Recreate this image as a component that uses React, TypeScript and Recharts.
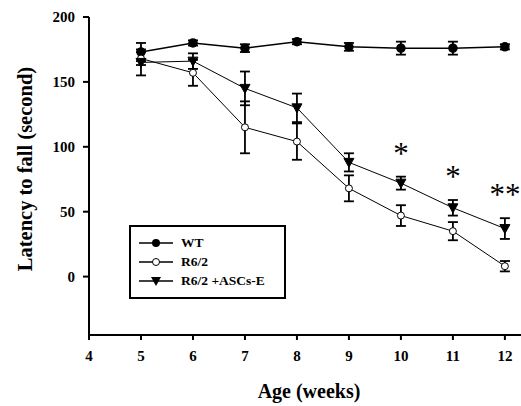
import { LineChart, Line, XAxis, YAxis, ErrorBar, LabelList } from "recharts";

const weeks = [5, 6, 7, 8, 9, 10, 11, 12];
const wtMean = [173, 180, 176, 181, 177, 176, 176, 177];
const wtErr = [7, 2, 3, 2, 3, 5, 5, 2];
const r62Mean = [168, 157, 115, 104, 68, 47, 35, 8];
const r62Err = [5, 10, 20, 14, 10, 8, 7, 4];
const ascMean = [165, 166, 145, 130, 88, 72, 53, 37];
const ascErr = [10, 6, 13, 11, 7, 5, 6, 8];
const stars = ["", "", "", "", "", "*", "*", "**"];
const xTicks = [4, 5, 6, 7, 8, 9, 10, 11, 12];
const yTicks = [0, 50, 100, 150, 200];

const data = weeks.map((week, i) => ({
  week,
  wt: wtMean[i],
  wtErr: wtErr[i],
  r62: r62Mean[i],
  r62Err: r62Err[i],
  asc: ascMean[i],
  ascErr: ascErr[i],
  star: stars[i],
}));

const serif = "'Liberation Serif', 'Times New Roman', serif";

function Triangle(props: any) {
  const { cx, cy, index } = props;
  if (cx == null || cy == null) return null;
  return (
    <path
      key={`tri-${index}`}
      d={`M${cx - 5},${cy - 4} L${cx + 5},${cy - 4} L${cx},${cy + 5} Z`}
      fill="#000"
      stroke="#000"
    />
  );
}

function StarLabel(props: any) {
  const { x, y, value, index } = props;
  if (!value) return null;
  const off = ascErr[index] * 1.3 + 13;
  return (
    <text
      x={x}
      y={y - off}
      textAnchor="middle"
      fontFamily={serif}
      fontSize={31}
      fill="#000"
    >
      {value}
    </text>
  );
}

function YTitle() {
  return (
    <text
      x={32}
      y={169}
      transform="rotate(-90 32 169)"
      textAnchor="middle"
      fontFamily={serif}
      fontSize={20.5}
      fontWeight="bold"
      fill="#000"
    >
      Latency to fall (second)
    </text>
  );
}

function XTitle() {
  return (
    <text
      x={309}
      y={398}
      textAnchor="middle"
      fontFamily={serif}
      fontSize={20}
      fontWeight="bold"
      fill="#000"
    >
      Age (weeks)
    </text>
  );
}

function LegendRow({ label, kind }: { label: string; kind: string }) {
  return (
    <div style={{ display: "flex", alignItems: "center", height: 19 }}>
      <svg width={42} height={12} style={{ marginLeft: 8 }}>
        <line x1={0} y1={6} x2={34} y2={6} stroke="#000" strokeWidth={1.5} />
        {kind === "wt" && <circle cx={17} cy={6} r={4} fill="#000" />}
        {kind === "r62" && (
          <circle cx={17} cy={6} r={3.5} fill="#fff" stroke="#000" />
        )}
        {kind === "asc" && (
          <path d="M12,2 L22,2 L17,11 Z" fill="#000" />
        )}
      </svg>
      <span style={{ fontWeight: "bold", fontSize: 13.5, fontFamily: serif }}>
        {label}
      </span>
    </div>
  );
}

export default function App() {
  return (
    <div
      style={{
        position: "absolute",
        left: 0,
        top: 0,
        width: 521,
        height: 406,
        background: "#fff",
      }}
    >
      <LineChart
        width={521}
        height={406}
        data={data}
        margin={{ top: 17, right: 0, bottom: 0, left: 0 }}
      >
        <XAxis
          dataKey="week"
          type="number"
          domain={[4, 12.31]}
          ticks={xTicks}
          allowDataOverflow
          stroke="#000"
          strokeWidth={2}
          tickSize={5}
          tickMargin={10}
          tick={{ fill: "#000", fontSize: 15, fontWeight: "bold", fontFamily: serif }}
          height={71}
          label={{ content: XTitle }}
        />
        <YAxis
          type="number"
          domain={[-45, 200]}
          ticks={yTicks}
          allowDataOverflow
          width={89}
          stroke="#000"
          strokeWidth={2}
          tickSize={6}
          tickMargin={8}
          tick={{ fill: "#000", fontSize: 15, fontWeight: "bold", fontFamily: serif }}
          label={{ content: YTitle }}
        />
        <Line
          dataKey="wt"
          stroke="#000"
          strokeWidth={1.5}
          dot={{ r: 4, fill: "#000", stroke: "#000" }}
          isAnimationActive={false}
        >
          <ErrorBar dataKey="wtErr" width={5} stroke="#000" strokeWidth={1.8} />
        </Line>
        <Line
          dataKey="r62"
          stroke="#000"
          strokeWidth={1}
          dot={{ r: 3.5, fill: "#fff", stroke: "#000", strokeWidth: 1 }}
          isAnimationActive={false}
        >
          <ErrorBar dataKey="r62Err" width={5} stroke="#000" strokeWidth={1.8} />
        </Line>
        <Line
          dataKey="asc"
          stroke="#000"
          strokeWidth={1}
          dot={Triangle}
          isAnimationActive={false}
        >
          <ErrorBar dataKey="ascErr" width={5} stroke="#000" strokeWidth={1.8} />
          <LabelList dataKey="star" content={StarLabel} />
        </Line>
      </LineChart>
      <div
        style={{
          position: "absolute",
          left: 129,
          top: 225,
          width: 157,
          height: 74,
          boxSizing: "border-box",
          border: "2px solid #000",
          background: "#fff",
          paddingTop: 6,
        }}
      >
        <LegendRow label="WT" kind="wt" />
        <LegendRow label="R6/2" kind="r62" />
        <LegendRow label="R6/2 +ASCs-E" kind="asc" />
      </div>
    </div>
  );
}
